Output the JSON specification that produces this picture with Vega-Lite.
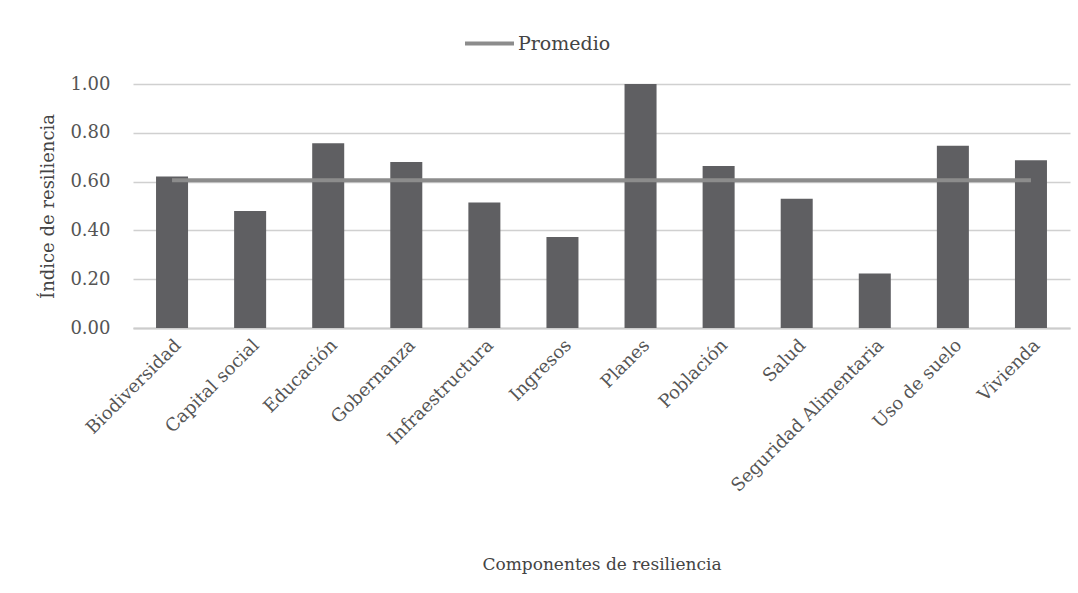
{
  "$schema": "https://vega.github.io/schema/vega-lite/v6.json",
  "width": 937,
  "height": 244,
  "autosize": "none",
  "padding": {"left": 133, "top": 84, "right": 8, "bottom": 265},
  "background": "white",
  "config": {
    "view": {"stroke": null},
    "font": "DejaVu Serif",
    "axis": {"labelFont": "DejaVu Serif", "titleFont": "DejaVu Serif", "labelColor": "#555555", "titleColor": "#444444", "labelFontSize": 18, "titleFontSize": 17, "titleFontWeight": "normal"},
    "legend": {"labelFont": "DejaVu Serif", "labelFontSize": 19, "labelColor": "#444444"}
  },
  "data": {
    "values": [
      {"componente": "Biodiversidad", "indice": 0.621, "promedio": 0.606},
      {"componente": "Capital social", "indice": 0.480, "promedio": 0.606},
      {"componente": "Educación", "indice": 0.757, "promedio": 0.606},
      {"componente": "Gobernanza", "indice": 0.680, "promedio": 0.606},
      {"componente": "Infraestructura", "indice": 0.514, "promedio": 0.606},
      {"componente": "Ingresos", "indice": 0.373, "promedio": 0.606},
      {"componente": "Planes", "indice": 1.000, "promedio": 0.606},
      {"componente": "Población", "indice": 0.664, "promedio": 0.606},
      {"componente": "Salud", "indice": 0.530, "promedio": 0.606},
      {"componente": "Seguridad Alimentaria", "indice": 0.223, "promedio": 0.606},
      {"componente": "Uso de suelo", "indice": 0.747, "promedio": 0.606},
      {"componente": "Vivienda", "indice": 0.687, "promedio": 0.606}
    ]
  },
  "encoding": {
    "x": {
      "field": "componente", "type": "nominal", "sort": null,
      "scale": {"paddingInner": 0.59, "paddingOuter": 0.295},
      "axis": {"title": "Componentes de resiliencia", "labelAngle": -45, "labelLimit": 0, "labelFontSize": 18, "ticks": false, "domainColor": "#cccccc", "domainWidth": 2, "labelPadding": 8, "titleY": 228, "titlePadding": 0}
    }
  },
  "layer": [
    {
      "mark": {"type": "bar", "color": "#5f5f62"},
      "encoding": {
        "y": {
          "field": "indice", "type": "quantitative",
          "scale": {"domain": [0, 1]},
          "axis": {"title": "Índice de resiliencia", "titleFontSize": 18, "values": [0, 0.2, 0.4, 0.6, 0.8, 1.0], "format": ".2f", "ticks": false, "domain": false, "gridColor": "#d0d0d0", "gridWidth": 1.5, "labelPadding": 23, "titlePadding": 12}
        }
      }
    },
    {
      "mark": {"type": "line", "strokeWidth": 4},
      "encoding": {
        "y": {"field": "promedio", "type": "quantitative"},
        "color": {
          "datum": "Promedio",
          "scale": {"range": ["#8c8c8c"]},
          "legend": {"title": null, "orient": "none", "legendX": 330, "legendY": -67, "symbolType": "stroke", "symbolStrokeWidth": 4, "symbolSize": 2400, "labelOffset": 2}
        }
      }
    }
  ]
}
